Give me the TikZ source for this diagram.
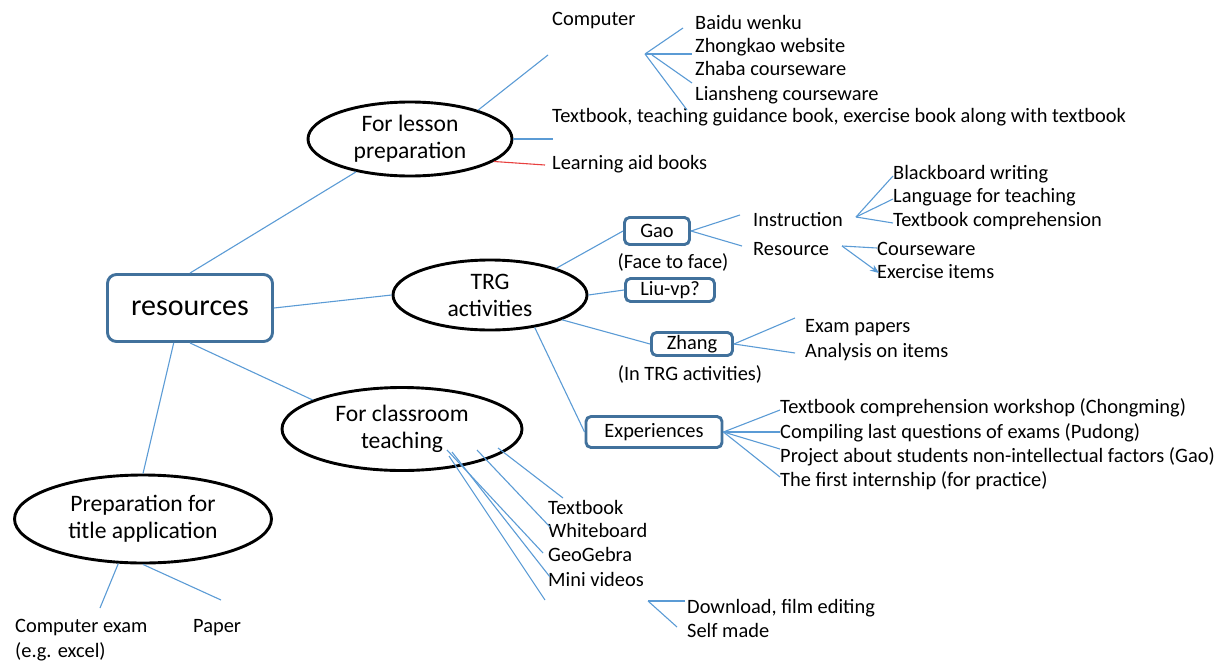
\documentclass[tikz,border=0pt]{standalone}
\usepackage{fontspec}
\setmainfont{Carlito}
\usetikzlibrary{shapes.geometric,arrows.meta}
\definecolor{lnblue}{HTML}{5B9BD5}
\definecolor{bxblue}{HTML}{41719C}
\definecolor{lnred}{HTML}{E8403F}
\begin{document}
\begin{tikzpicture}[x=1pt,y=-1pt,
  txt/.style={anchor=west,inner sep=0pt,font=\fontsize{20.4}{24}\selectfont,text height=15pt,text depth=1pt},
  captxt/.style={inner sep=0pt,font=\fontsize{20.4}{24}\selectfont,text height=15pt,text depth=1pt},
  oval/.style={ellipse,draw=black,line width=2.9pt,inner sep=0pt,align=center,font=\fontsize{23.6}{27}\selectfont},
  bx/.style={draw=bxblue,line width=2.9pt,rounded corners=5pt,inner sep=0pt,font=\fontsize{20.4}{24}\selectfont},
  ln/.style={draw=lnblue,line width=1.1pt},
  lnr/.style={draw=lnred,line width=1.1pt},
]
\useasboundingbox (0,0) rectangle (1223,664);

% main nodes
\node[bx,font=\fontsize{30}{36}\selectfont,minimum width=165pt,minimum height=67pt,rounded corners=9pt] (res) at (190,308) {resources};
\node[oval,minimum width=204pt,minimum height=74pt] (lesson) at (410,139) {For lesson\\preparation};
\node[oval,minimum width=194pt,minimum height=70pt] (trg) at (490,295) {TRG\\activities};
\node[oval,minimum width=240pt,minimum height=83pt] (cls) at (402,429) {For classroom\\teaching};
\node[oval,minimum width=257pt,minimum height=88pt] (title) at (143,519) {Preparation for\\title application};

% boxes
\node[bx,minimum width=65pt,minimum height=27pt] (gao) at (657,231) {Gao};
\node[bx,minimum width=89pt,minimum height=23pt] (liu) at (670,290) {Liu-vp?};
\node[bx,minimum width=81pt,minimum height=23pt] (zhang) at (692,344) {Zhang};
\node[bx,minimum width=136pt,minimum height=31pt] (exp) at (654,432) {Experiences};
\node[captxt] (gaocap) at (673,261) {(Face to face)};
\node[captxt] (zhcap) at (690,373) {(In TRG activities)};

% texts
\node[txt] (computer) at (552,18) {Computer};
\node[txt] (baidu) at (695,22) {Baidu wenku};
\node[txt] (zhongkao) at (695,45) {Zhongkao website};
\node[txt] (zhaba) at (695,68) {Zhaba courseware};
\node[txt] (liansheng) at (695,93) {Liansheng courseware};
\node[txt] (tbook) at (552,115) {Textbook, teaching guidance book, exercise book along with textbook};
\node[txt] (aid) at (552,162) {Learning aid books};
\node[txt] (blackb) at (893,172) {Blackboard writing};
\node[txt] (lang) at (893,195) {Language for teaching};
\node[txt] (tbcomp) at (893,219) {Textbook comprehension};
\node[txt] (instr) at (753,219) {Instruction};
\node[txt] (resrc) at (753,248) {Resource};
\node[txt] (course) at (877,248) {Courseware};
\node[txt] (exer) at (877,271) {Exercise items};
\node[txt] (exam) at (805,325) {Exam papers};
\node[txt] (anal) at (805,350) {Analysis on items};
\node[txt] (ex1) at (780,406) {Textbook comprehension workshop (Chongming)};
\node[txt] (ex2) at (780,431) {Compiling last questions of exams (Pudong)};
\node[txt] (ex3) at (780,455) {Project about students non-intellectual factors (Gao)};
\node[txt] (ex4) at (780,479) {The first internship (for practice)};
\node[txt] (ctb) at (548,507) {Textbook};
\node[txt] (cwb) at (548,530) {Whiteboard};
\node[txt] (cgg) at (548,554) {GeoGebra};
\node[txt] (cmv) at (548,579) {Mini videos};
\node[txt] (dl) at (687,606) {Download, film editing};
\node[txt] (sm) at (687,630) {Self made};
\node[txt] (cexam) at (15,625) {Computer exam};
\node[txt] (cexam2) at (15,650) {(e.g. excel)};
\node[txt] (paper) at (193,625) {Paper};

% coordinates for free ends
\coordinate (eA) at (100,608);
\coordinate (eP) at (221,600);
\coordinate (eC) at (548,55);
\coordinate (eT) at (553,139);
\coordinate (eL) at (545,165);
\coordinate (cF) at (645,54);
\coordinate (cF2) at (652,55);
\coordinate (c1) at (683,28);
\coordinate (c2) at (692,54);
\coordinate (c3) at (692,83);
\coordinate (c4) at (687,110);
\coordinate (gI) at (740,215);
\coordinate (gR) at (742,246);
\coordinate (iF) at (856,217);
\coordinate (i1) at (893,176);
\coordinate (i2) at (893,199);
\coordinate (i3) at (893,223);
\coordinate (rF) at (842,246);
\coordinate (r1) at (877,248);
\coordinate (r2) at (879,273);
\coordinate (z1) at (795,318);
\coordinate (z2) at (795,353);
\coordinate (x1) at (780,410);
\coordinate (x2) at (780,432);
\coordinate (x3) at (780,449);
\coordinate (x4) at (780,477);
\coordinate (s1) at (498,448);
\coordinate (s2) at (477,450);
\coordinate (s3) at (447,450);
\coordinate (s4) at (452,452);
\coordinate (s5) at (449,456);
\coordinate (t1) at (563,498);
\coordinate (t2) at (550,527);
\coordinate (t3) at (543,553);
\coordinate (t4) at (550,577);
\coordinate (t5) at (545,600);
\coordinate (dF) at (648,601);
\coordinate (d1) at (685,601);
\coordinate (d2) at (677,627);

% connectors
\draw[ln] (res.north) -- (lesson);
\draw[ln] (res.east) -- (trg.west);
\draw[ln] (res.south) -- (cls.162);
\draw[ln] (res.-115) -- (title.north);
\draw[ln] (title.-119) -- (eA);
\draw[ln] (title.south) -- (eP);
\draw[ln] (lesson.23) -- (eC);
\draw[ln] (lesson.east) -- (eT);
\draw[lnr] (lesson.-15) -- (eL);
\draw[ln] (cF) -- (c1);
\draw[ln] (cF) -- (c2);
\draw[ln] (cF2) -- (c3);
\draw[ln] (cF) -- (c4);
\draw[ln] (trg.22) -- (gao.west);
\draw[ln] (trg.east) -- (liu.west);
\draw[ln] (trg.-19) -- (zhang.west);
\draw[ln] (trg.-36) -- (exp.west);
\draw[ln] (gao.east) -- (gI);
\draw[ln] (gao.east) -- (gR);
\draw[ln] (iF) -- (i1);
\draw[ln] (iF) -- (i2);
\draw[ln] (iF) -- (i3);
\draw[ln] (rF) -- (r1);
\draw[ln,-{Stealth[length=9pt,width=7pt]}] (rF) -- (r2);
\draw[ln] (zhang.east) -- (z1);
\draw[ln] (zhang.east) -- (z2);
\draw[ln] (exp.east) -- (x1);
\draw[ln] (exp.east) -- (x2);
\draw[ln] (exp.east) -- (x3);
\draw[ln] (exp.east) -- (x4);
\draw[ln] (s1) -- (t1);
\draw[ln] (s2) -- (t2);
\draw[ln] (s3) -- (t3);
\draw[ln] (s4) -- (t4);
\draw[ln] (s5) -- (t5);
\draw[ln] (dF) -- (d1);
\draw[ln] (dF) -- (d2);
\end{tikzpicture}
\end{document}
